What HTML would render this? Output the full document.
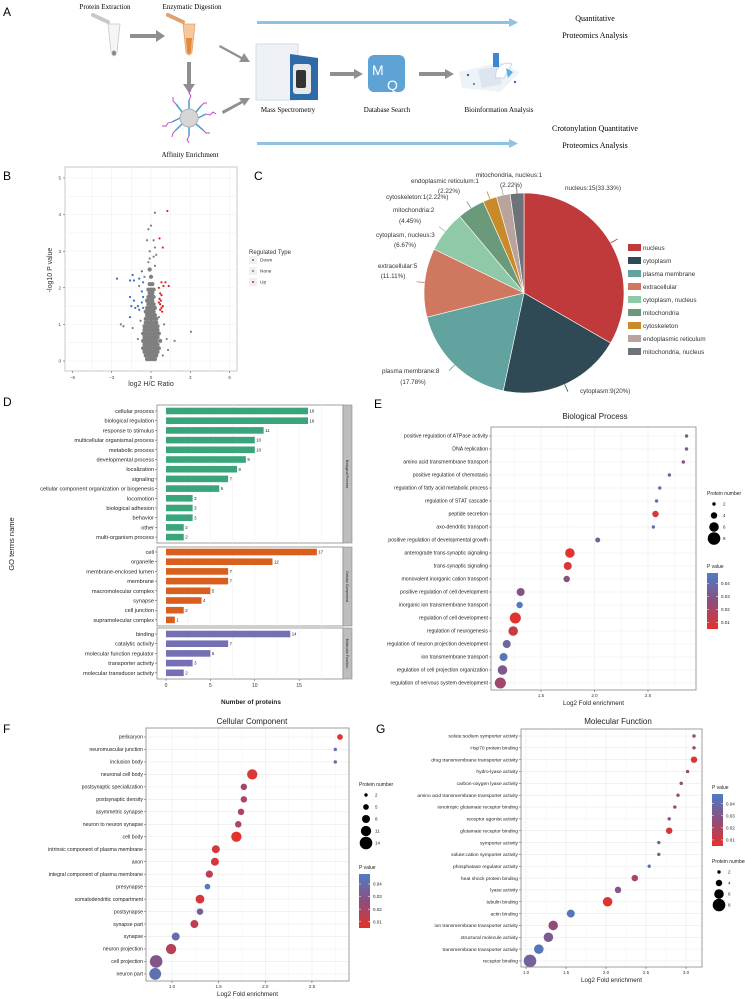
<!DOCTYPE html>
<html><head><meta charset="utf-8"><style>
html,body{margin:0;padding:0;background:#fff;}
svg{display:block;font-family:"Liberation Sans",sans-serif;}
.ser{font-family:"Liberation Serif",serif;}
</style></head><body>
<svg id="fig" width="745" height="999" viewBox="0 0 745 999" xmlns="http://www.w3.org/2000/svg">
<rect width="745" height="999" fill="#fff"/>
<!-- Panel A -->
<g>
<text x="3" y="16" font-size="12">A</text>
<text class="ser" x="105" y="9" font-size="7" text-anchor="middle">Protein Extraction</text>
<text class="ser" x="192" y="9" font-size="7" text-anchor="middle">Enzymatic Digestion</text>
<g><path d="M108 24 L120 24 L117 52 Q114 60 111 52 Z" fill="#f5f5f5" stroke="#c8c8c8" stroke-width="0.8"/><ellipse cx="114" cy="53" rx="2" ry="2.5" fill="#8a8a8a"/><path d="M93 15 L108 22" stroke="#c8c8c8" stroke-width="4" stroke-linecap="round"/></g>
<g><path d="M183 24 L195 24 L192 52 Q189 58 186 52 Z" fill="#f6c89a" stroke="#e0a070" stroke-width="0.8"/><path d="M186 38 L192 38 L191 52 Q189 56 187 52 Z" fill="#e08a40"/><path d="M168 15 L183 22" stroke="#e0a070" stroke-width="4" stroke-linecap="round"/></g>
<polygon points="130,34 156,34 156,30 165,36 156,42 156,38 130,38" fill="#8f8f8f"/>
<polygon points="187,62 191,62 191,84 195,84 189,93 183,84 187,84" fill="#8f8f8f"/>
<polygon points="220,45 242,57 244,53 250,62 239,62 241,59 219,47" fill="#8f8f8f"/>
<polygon points="222,111 241,101 239,98 250,98 244,106 243,103 223,114" fill="#8f8f8f"/>
<g><path d="M189 109 L189 100 M189 127 L189 136 M180 118 L172 122 M198 118 L206 114 M182 112 L176 104 M196 124 L203 130 M182 124 L176 130 M196 112 L201 106" stroke="#4a9ad0" stroke-width="1.5"/><path d="M189 100 l2 -4 l-2 -3 l2 -3 M172 122 l-4 1 l-2 3 l-4 0 M206 114 l4 1 l3 -3 l3 2 M176 104 l-3 -3 l0 -4 M203 130 l3 3 l4 0 M176 130 l-3 3 l-1 4 M189 136 l-2 4 l2 3 M201 106 l3 -3 l3 0" stroke="#c040c0" stroke-width="0.9" fill="none"/><circle cx="189" cy="118" r="9" fill="#d6d6d6" stroke="#b0b0b0"/></g>
<text class="ser" x="190" y="157" font-size="7" text-anchor="middle">Affinity Enrichment</text>
<polygon points="257,21 509,21 509,18 518,22.5 509,27 509,24 257,24" fill="#8ec1e3"/>
<polygon points="257,142 509,142 509,139 518,143.5 509,148 509,145 257,145" fill="#8ec1e3"/>
<text class="ser" x="595" y="21" font-size="8" text-anchor="middle">Quantitative</text>
<text class="ser" x="595" y="38" font-size="8" text-anchor="middle">Proteomics Analysis</text>
<text class="ser" x="595" y="131" font-size="8" text-anchor="middle">Crotonylation Quantitative</text>
<text class="ser" x="595" y="148" font-size="8" text-anchor="middle">Proteomics Analysis</text>
<g><rect x="256" y="44" width="42" height="56" fill="#eef1f5" stroke="#d4dbe4"/><path d="M290 54 L318 58 L318 100 L290 100 Z" fill="#2f6aa8"/><rect x="293" y="64" width="18" height="30" rx="3" fill="#e8e8e8"/><rect x="296" y="70" width="10" height="18" rx="2" fill="#333"/></g>
<text class="ser" x="288" y="112" font-size="7" text-anchor="middle">Mass Spectrometry</text>
<polygon points="330,72 354,72 354,69 363,74 354,79 354,76 330,76" fill="#8f8f8f"/>
<g><rect x="368" y="55" width="37" height="37" rx="6" fill="#5ea3d6"/><text x="372" y="75" font-size="14" fill="#fff">M</text><text x="387" y="90" font-size="14" fill="#fff">Q</text></g>
<text class="ser" x="387" y="112" font-size="7" text-anchor="middle">Database Search</text>
<polygon points="419,72 445,72 445,69 454,74 445,79 445,76 419,76" fill="#8f8f8f"/>
<g><path d="M459 72 L500 62 L520 72 L500 92 L462 88 Z" fill="#eef3f8"/><path d="M478 70 L498 66 L502 84 L482 88 Z" fill="#dde5ee"/><path d="M496 78 A12 12 0 0 1 512 64 L504 78 Z" fill="#fff" stroke="#cdd7e2"/><rect x="493" y="53" width="6" height="14" fill="#3b88d0"/><path d="M506 68 L513 72 L508 78 Z" fill="#5aaee8"/><circle cx="468" cy="75" r="1.2" fill="#3b6fb0"/><circle cx="515" cy="82" r="1.2" fill="#3b6fb0"/><circle cx="474" cy="84" r="1" fill="#3b6fb0"/></g>
<text class="ser" x="499" y="112" font-size="7" text-anchor="middle">Bioinformation Analysis</text>
</g>
<g id="dyn"></g>
</svg>
<script>
// ---------- Volcano (B) data ----------
const downX=[-2.6,-1.4,-1.6,-1.3,-0.9,-0.7,-0.6,-1.6,-1.3,-1.5,-1.2,-1.0,-0.9,-0.7,-0.6,-0.7,-0.6,-1.6];
const downY=[2.25,2.35,2.2,2.2,2.25,2.45,2.15,1.75,1.65,1.5,1.45,1.5,1.4,1.6,1.45,1.9,1.75,1.2];
const upX=[1.25,0.65,0.9,0.8,1.1,1.35,0.95,0.6,0.7,0.8,0.65,0.75,0.9,0.8,0.7,0.85,0.7,0.6];
const upY=[4.1,3.35,3.1,2.15,2.15,2.05,2.05,2.0,1.85,1.8,1.7,1.65,1.5,1.45,1.4,1.35,1.55,1.6];
const noneOutX=[0.3,0.0,-0.2,-0.3,0.2,0.3,-0.1,0.4,0.2,-0.1,3.05,1.8,-2.3,-2.1,-1.4,1.3,0.9,0.3,-0.2,-0.8,-1.0,1.0,1.2,-0.9,0.6,-0.5,0.5];
const noneOutY=[4.05,3.7,3.6,3.3,3.3,3.1,3.0,2.9,2.85,2.8,0.8,0.55,1.0,0.95,0.9,0.3,0.15,2.6,2.7,1.1,0.6,1.0,0.6,2.05,1.2,2.3,0.9];
const coreY=[0.05,0.15,0.25,0.35,0.45,0.55,0.65,0.75,0.85,0.95,1.05,1.15,1.25,1.35,1.45,1.55,1.65,1.75,1.85,1.95,2.1,2.3,2.5];
const coreX=[[-0.3,-0.1,0.1,0.3],[-0.4,-0.2,0,0.2,0.4],[-0.5,-0.3,-0.1,0.1,0.3,0.5],[-0.6,-0.4,-0.2,0,0.2,0.4,0.6],[-0.5,-0.3,-0.1,0.1,0.3,0.5],[-0.6,-0.4,-0.2,0,0.2,0.4,0.7],[-0.5,-0.3,-0.1,0.1,0.3,0.5],[-0.6,-0.4,-0.2,0,0.2,0.4,0.6],[-0.5,-0.3,-0.1,0.1,0.3,0.5],[-0.5,-0.3,-0.1,0.1,0.3,0.5],[-0.4,-0.2,0,0.2,0.4],[-0.4,-0.2,0,0.2,0.4],[-0.3,-0.1,0.1,0.3],[-0.4,-0.2,0,0.2],[-0.3,-0.1,0.1,0.3],[-0.2,0,0.2],[-0.3,-0.1,0.1],[-0.2,0,0.2],[-0.1,0.1],[-0.2,0,0.2],[-0.1,0.1],[0],[-0.1]];
const volXTicks=[-6,-3,0,3,6];
const volYTicks=[0,1,2,3,4,5];
// ---------- Pie (C) data ----------
const pieCats=["nucleus","cytoplasm","plasma membrane","extracellular","cytoplasm, nucleus","mitochondria","cytoskeleton","endoplasmic reticulum","mitochondria, nucleus"];
const pieVals=[15,9,8,5,3,2,1,1,1];
const pieColors=["#c0393b","#2f4a55","#62a39f","#d0785f","#8fc9a8","#6a9a7a","#c98a2a","#b8a49c","#6d7378"];
// ---------- Bar (D) data ----------
const bpCats=["cellular process","biological regulation","response to stimulus","multicellular organismal process","metabolic process","developmental process","localization","signaling","cellular component organization or biogenesis","locomotion","biological adhesion","behavior","other","multi-organism process"];
const bpVals=[16,16,11,10,10,9,8,7,6,3,3,3,2,2];
const ccCats=["cell","organelle","membrane-enclosed lumen","membrane","macromolecular complex","synapse","cell junction","supramolecular complex"];
const ccVals=[17,12,7,7,5,4,2,1];
const mfCats=["binding","catalytic activity","molecular function regulator","transporter activity","molecular transducer activity"];
const mfVals=[14,7,5,3,2];
const barTicks=[0,5,10,15];
// ---------- Dot plot E ----------
const eCats=["positive regulation of ATPase activity","DNA replication","amino acid transmembrane transport","positive regulation of chemotaxis","regulation of fatty acid metabolic process","regulation of STAT cascade","peptide secretion","axo-dendritic transport","positive regulation of developmental growth","anterograde trans-synaptic signaling","trans-synaptic signaling","monovalent inorganic cation transport","positive regulation of cell development","inorganic ion transmembrane transport","regulation of cell development","regulation of neurogenesis","regulation of neuron projection development","ion transmembrane transport","regulation of cell projection organization","regulation of nervous system development"];
const eFold=[2.86,2.86,2.83,2.70,2.61,2.58,2.57,2.55,2.03,1.77,1.75,1.74,1.31,1.30,1.26,1.24,1.18,1.15,1.14,1.12];
const eCount=[2,2,2,2,2,2,4,2,3,6,5,4,5,4,7,6,5,5,6,7];
const eP=[0.03,0.03,0.025,0.038,0.042,0.045,0.008,0.045,0.035,0.005,0.008,0.028,0.028,0.046,0.006,0.012,0.038,0.045,0.032,0.022];
const eTicks=[1.5,2.0,2.5];
// ---------- Dot plot F ----------
const fCats=["perikaryon","neuromuscular junction","inclusion body","neuronal cell body","postsynaptic specialization","postsynaptic density","asymmetric synapse","neuron to neuron synapse","cell body","intrinsic component of plasma membrane","axon","integral component of plasma membrane","presynapse","somatodendritic compartment","postsynapse","synapse part","synapse","neuron projection","cell projection","neuron part"];
const fFold=[2.80,2.75,2.75,1.86,1.77,1.77,1.74,1.71,1.69,1.47,1.46,1.40,1.38,1.30,1.30,1.24,1.04,0.99,0.83,0.82];
const fCount=[5,2,2,11,6,6,6,6,11,8,8,7,5,9,6,8,8,11,14,13];
const fP=[0.005,0.04,0.04,0.008,0.02,0.02,0.018,0.02,0.005,0.01,0.008,0.015,0.047,0.01,0.035,0.015,0.04,0.017,0.03,0.042];
const fTicks=[1.0,1.5,2.0,2.5];
// ---------- Dot plot G ----------
const gCats=["solute:sodium symporter activity","Hsp70 protein binding","drug transmembrane transporter activity","hydro-lyase activity","carbon-oxygen lyase activity","amino acid transmembrane transporter activity","ionotropic glutamate receptor binding","receptor agonist activity","glutamate receptor binding","symporter activity","solute:cation symporter activity","phosphatase regulator activity","heat shock protein binding","lyase activity","tubulin binding","actin binding","ion transmembrane transporter activity","structural molecule activity","transmembrane transporter activity","receptor binding"];
const gFold=[3.10,3.10,3.10,3.02,2.94,2.90,2.86,2.79,2.79,2.66,2.66,2.54,2.36,2.15,2.02,1.56,1.34,1.28,1.16,1.05];
const gCount=[2,2,4,2,2,2,2,2,4,2,2,2,4,4,6,5,6,6,6,8];
const gP=[0.025,0.025,0.008,0.025,0.025,0.025,0.025,0.03,0.008,0.035,0.035,0.045,0.018,0.03,0.006,0.045,0.025,0.032,0.045,0.035];
const gTicks=[1.0,1.5,2.0,2.5,3.0];

const NS="http://www.w3.org/2000/svg";
const root=document.getElementById('dyn');
function mk(tag,attrs,parent){const e=document.createElementNS(NS,tag);for(const k in attrs)e.setAttribute(k,attrs[k]);(parent||root).appendChild(e);return e;}
function txt(str,attrs,parent){const e=mk('text',attrs,parent);e.textContent=str;return e;}
function pcol(p){let t=(p-0.005)/(0.048-0.005);t=Math.max(0,Math.min(1,t));const a=[228,50,44],m=[140,78,125],b=[78,125,196];let c;if(t<0.5){const u=t/0.5;c=a.map((v,i)=>Math.round(v+(m[i]-v)*u));}else{const u=(t-0.5)/0.5;c=m.map((v,i)=>Math.round(v+(b[i]-v)*u));}return `rgb(${c[0]},${c[1]},${c[2]})`;}

// ===== Panel B volcano =====
(function(){
const g=mk('g',{});


const L=65,R=237,T=167,B=371;
const xs=v=>151+v*13.1, ys=v=>361-v*36.6;
const lab=txt('B',{x:3,y:180,'font-size':12},g);


mk('rect',{x:L,y:T,width:R-L,height:B-T,fill:'#fff',stroke:'#bbb','stroke-width':0.8},g);
for(let v=-4.5;v<=6;v+=1.5){mk('line',{x1:xs(v),x2:xs(v),y1:T,y2:B,stroke:'#f0f0f0','stroke-width':0.6},g);}
for(let v=0;v<=5;v+=0.5){mk('line',{x1:L,x2:R,y1:ys(v),y2:ys(v),stroke:'#f0f0f0','stroke-width':0.6},g);}
volXTicks.forEach(v=>{mk('line',{x1:xs(v),x2:xs(v),y1:B,y2:B+2,stroke:'#444','stroke-width':0.5},g);const t=txt(String(v).replace('-','−'),{x:xs(v),y:B+8,'font-size':4.5,'text-anchor':'middle',fill:'#444'},g);});
volYTicks.forEach(v=>{mk('line',{x1:L-2,x2:L,y1:ys(v),y2:ys(v),stroke:'#444','stroke-width':0.5},g);const t=txt(String(v),{x:L-4,y:ys(v)+1.6,'font-size':4.5,'text-anchor':'end',fill:'#444'},g);});
coreY.forEach((y,i)=>coreX[i].forEach(x=>{const c=mk('circle',{cx:xs(x),cy:ys(y),r:2.1,fill:'#7f7f7f'},g);}));
noneOutX.forEach((x,i)=>{const c=mk('circle',{cx:xs(x),cy:ys(noneOutY[i]),r:1.1,fill:'#7f7f7f'},g);});
downX.forEach((x,i)=>{const c=mk('circle',{cx:xs(x),cy:ys(downY[i]),r:1.1,fill:'#3b6fc0'},g);});
upX.forEach((x,i)=>{const c=mk('circle',{cx:xs(x),cy:ys(upY[i]),r:1.1,fill:'#e02020'},g);});
const xt=txt('log2 H/C Ratio',{x:151,y:386,'font-size':7,'text-anchor':'middle',fill:'#333'},g);

const yt=txt('-log10 P value',{x:0,y:0,'font-size':7,'text-anchor':'middle',fill:'#333',transform:'translate(52,270) rotate(-90)'},g);

const lt=txt('Regulated Type',{x:249,y:254,'font-size':6,fill:'#333'},g);

[['Down','#3b6fc0'],['None','#7f7f7f'],['Up','#e02020']].forEach((d,i)=>{const y=260+i*11;mk('rect',{x:249,y:y-4,width:8,height:8,fill:'#f0f0f0'},g);mk('circle',{cx:253,cy:y,r:1,fill:d[1]},g);const t=txt(d[0],{x:260,y:y+1.7,'font-size':4.8,fill:'#333'},g);});
})();

// ===== Panel C pie =====
(function(){
const g=mk('g',{});


const lab=txt('C',{x:254,y:180,'font-size':12},g);

const cx=524,cy=293,r=100;const tot=pieVals.reduce((a,b)=>a+b,0);let a0=-Math.PI/2;
pieVals.forEach((v,i)=>{const a1=a0+v/tot*2*Math.PI;const large=(a1-a0)>Math.PI?1:0;
const p=mk('path',{d:`M${cx},${cy} L${cx+r*Math.cos(a0)},${cy+r*Math.sin(a0)} A${r},${r} 0 ${large} 1 ${cx+r*Math.cos(a1)},${cy+r*Math.sin(a1)} Z`,fill:pieColors[i],stroke:'#fff','stroke-width':0.6},g);

const am=(a0+a1)/2;mk('line',{x1:cx+r*Math.cos(am),y1:cy+r*Math.sin(am),x2:cx+(r+8)*Math.cos(am),y2:cy+(r+8)*Math.sin(am),stroke:pieColors[i],'stroke-width':0.8},g);
a0=a1;});
const labels=[["nucleus:15(33.33%)",565,190,'start'],["mitochondria, nucleus:1",509,177,'middle'],["(2.22%)",511,187,'middle'],["endoplasmic reticulum:1",411,183,'start'],["(2.22%)",449,193,'middle'],["cytoskeleton:1(2.22%)",386,199,'start'],["mitochondria:2",393,212,'start'],["(4.45%)",410,223,'middle'],["cytoplasm, nucleus:3",376,237,'start'],["(6.67%)",405,247,'middle'],["extracellular:5",378,268,'start'],["(11.11%)",393,278,'middle'],["plasma membrane:8",382,373,'start'],["(17.78%)",413,384,'middle'],["cytoplasm:9(20%)",580,393,'start']];
labels.forEach(l=>{const t=txt(l[0],{x:l[1],y:l[2],'font-size':6.3,fill:'#333','text-anchor':l[3]},g);});
pieCats.forEach((c,i)=>{const y=244+i*13;mk('rect',{x:628,y:y,width:13,height:7,fill:pieColors[i]},g);const t=txt(c,{x:643,y:y+6,'font-size':6.3,fill:'#333'},g);});
})();

// ===== Panel D bars =====
(function(){
const g=mk('g',{});


const lab=txt('D',{x:3,y:406,'font-size':12},g);

const L=157,R=343,x0=166,unit=8.875,step=9.7;const xs=v=>x0+v*unit;
const groups=[[bpCats,bpVals,'#3aa57a',405,543,411,'Biological Process'],[ccCats,ccVals,'#d95f1e',547,626,552,'Cellular Component'],[mfCats,mfVals,'#7570b3',628,679,634,'Molecular Function']];
groups.forEach(gr=>{const [cats,vals,col,T,B,y0,strip]=gr;
mk('rect',{x:L,y:T,width:R-L,height:B-T,fill:'#fff',stroke:'#888','stroke-width':0.8},g);
for(let v=2.5;v<20;v+=2.5){mk('line',{x1:xs(v),x2:xs(v),y1:T,y2:B,stroke:'#f0f0f0','stroke-width':0.6},g);}
mk('rect',{x:R,y:T,width:9,height:B-T,fill:'#bdbdbd',stroke:'#888','stroke-width':0.6},g);
const st=txt(strip,{x:0,y:0,'font-size':3.5,'text-anchor':'middle',fill:'#222',transform:`translate(${R+3.2},${(T+B)/2}) rotate(90)`},g);
cats.forEach((c,i)=>{const y=y0+i*step;
const b=mk('rect',{x:x0,y:y-3.3,width:xs(vals[i])-x0,height:6.6,fill:col},g);
const vt=txt(String(vals[i]),{x:xs(vals[i])+1.5,y:y+1.6,'font-size':4.3,fill:'#222'},g);
mk('line',{x1:L-2,x2:L,y1:y,y2:y,stroke:'#444','stroke-width':0.5},g);
const lt=txt(c,{x:L-3,y:y+2,'font-size':5.6,'text-anchor':'end',fill:'#222'},g);});
});
barTicks.forEach(v=>{mk('line',{x1:xs(v),x2:xs(v),y1:679,y2:681,stroke:'#444','stroke-width':0.5},g);const t=txt(String(v),{x:xs(v),y:687,'font-size':5,'text-anchor':'middle',fill:'#333'},g);});
const xt=txt('Number of proteins',{x:251,y:704,'font-size':6.5,'font-weight':'bold','text-anchor':'middle',fill:'#222'},g);
const yt=txt('GO terms name',{x:0,y:0,'font-size':7.5,'text-anchor':'middle',fill:'#222',transform:'translate(14,544) rotate(-90)'},g);
})();

// ===== Dot plots =====
function dotPlot(o){
const g=mk('g',{});


const lab=txt(o.letter,{x:o.lx,y:o.ly,'font-size':12},g);

const tt=txt(o.title,{x:o.tx,y:o.ty,'font-size':8,'text-anchor':'middle',fill:'#222'},g);

mk('rect',{x:o.L,y:o.T,width:o.R-o.L,height:o.B-o.T,fill:'#fff'},g);
for(let v=o.ticks[0]-0.25;v<=o.ticks[o.ticks.length-1]+0.5;v+=0.25){const x=o.xs(v);if(x>o.L&&x<o.R)mk('line',{x1:x,x2:x,y1:o.T,y2:o.B,stroke:Math.abs((v*2)%1)<0.01?'#ebebeb':'#f5f5f5','stroke-width':0.6},g);}
o.cats.forEach((c,i)=>{const y=o.y0+i*o.step;mk('line',{x1:o.L,x2:o.R,y1:y,y2:y,stroke:'#ebebeb','stroke-width':0.6},g);
mk('line',{x1:o.L-2,x2:o.L,y1:y,y2:y,stroke:'#444','stroke-width':0.5},g);
const lt=txt(c,{x:o.L-3,y:y+1.7,'font-size':o.fs,'text-anchor':'end',fill:'#222'},g);});
o.cats.forEach((c,i)=>{const y=o.y0+i*o.step;const d=mk('circle',{cx:o.xs(o.fold[i]),cy:y,r:o.rf(o.count[i]),fill:pcol(o.p[i])},g);});
mk('rect',{x:o.L,y:o.T,width:o.R-o.L,height:o.B-o.T,fill:'none',stroke:'#888','stroke-width':0.8},g);
o.ticks.forEach(v=>{mk('line',{x1:o.xs(v),x2:o.xs(v),y1:o.B,y2:o.B+2,stroke:'#444','stroke-width':0.5},g);const t=txt(v.toFixed(1),{x:o.xs(v),y:o.B+7,'font-size':4.5,'text-anchor':'middle',fill:'#333'},g);});
const xt=txt('Log2 Fold enrichment',{x:(o.L+o.R)/2,y:o.B+15,'font-size':6.3,'text-anchor':'middle',fill:'#222'},g);
const st=txt(o.sizeTitle,{x:o.sx,y:o.sy,'font-size':5,fill:'#222'},g);
o.sizeVals.forEach((n,i)=>{const y=o.sy+9+i*o.sstep;mk('circle',{cx:o.sx+7,cy:y,r:o.rf(n),fill:'#000'},g);const t=txt(String(n),{x:o.sx+16,y:y+1.6,'font-size':4.5,fill:'#222'},g);});
const ct=txt('P value',{x:o.cx,y:o.cy,'font-size':5,fill:'#222'},g);
const gid='grad'+o.letter;const defs=mk('defs',{},g);const lg=mk('linearGradient',{id:gid,x1:0,y1:0,x2:0,y2:1},defs);
mk('stop',{offset:'0%','stop-color':pcol(0.048)},lg);mk('stop',{offset:'50%','stop-color':pcol(0.0265)},lg);mk('stop',{offset:'100%','stop-color':pcol(0.005)},lg);
const by=o.cy+5,bh=o.bh;mk('rect',{x:o.cx,y:by,width:11,height:bh,fill:`url(#${gid})`},g);
[0.04,0.03,0.02,0.01].forEach(v=>{const y=by+(0.048-v)/(0.048-0.005)*bh;mk('line',{x1:o.cx,x2:o.cx+2,y1:y,y2:y,stroke:'#fff','stroke-width':0.5},g);mk('line',{x1:o.cx+9,x2:o.cx+11,y1:y,y2:y,stroke:'#fff','stroke-width':0.5},g);const t=txt(v.toFixed(2),{x:o.cx+14,y:y+1.6,'font-size':4.5,fill:'#222'},g);});
}
dotPlot({name:'panel-e-biological-process',letter:'E',lx:374,ly:408,title:'Biological Process',tx:595,ty:419,L:491,R:696,T:427,B:690,xs:v=>541+(v-1.5)*107,ticks:eTicks,cats:eCats,fold:eFold,count:eCount,p:eP,y0:436,step:13,fs:5.2,rf:n=>1.7+(n-2)/6*4.6,sizeTitle:'Protein number',sx:707,sy:495,sizeVals:[2,4,6,8],sstep:11.5,cx:707,cy:568,bh:56});
dotPlot({name:'panel-f-cellular-component',letter:'F',lx:3,ly:733,title:'Cellular Component',tx:252,ty:724,L:146,R:349,T:728,B:981,xs:v=>172+(v-1)*93.3,ticks:fTicks,cats:fCats,fold:fFold,count:fCount,p:fP,y0:737,step:12.47,fs:5.2,rf:n=>1.7+(n-2)/12*4.6,sizeTitle:'Protein number',sx:359,sy:786,sizeVals:[2,5,8,11,14],sstep:12,cx:359,cy:869,bh:54});
dotPlot({name:'panel-g-molecular-function',letter:'G',lx:376,ly:733,title:'Molecular Function',tx:618,ty:724,L:521,R:702,T:729,B:967,xs:v=>526+(v-1)*80,ticks:gTicks,cats:gCats,fold:gFold,count:gCount,p:gP,y0:736,step:11.84,fs:4.9,rf:n=>1.7+(n-2)/6*4.6,sizeTitle:'Protein number',sx:712,sy:863,sizeVals:[2,4,6,8],sstep:11,cx:712,cy:789,bh:52});
</script>
</body></html>
